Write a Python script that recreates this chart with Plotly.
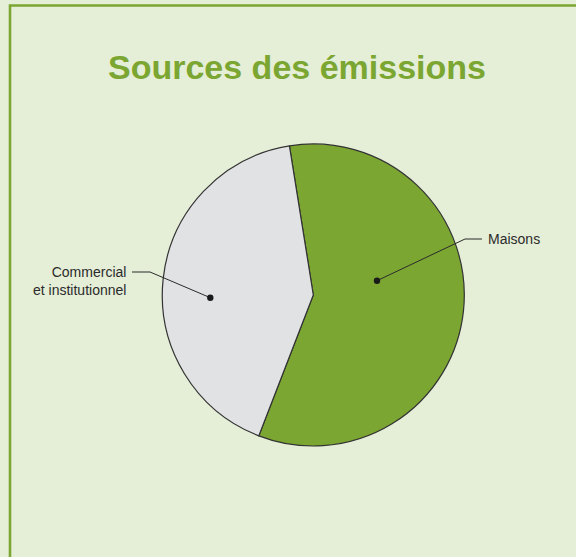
import plotly.graph_objects as go

# Emission sources (share, %)
labels = ["Maisons", "Commercial<br>et institutionnel"]
shares = [58.4, 41.6]
slice_colors = ["#7ba632", "#e1e2e4"]

W, H = 576, 557
BG = "#e5eed7"
GREEN = "#7ba632"
INK = "#2b2b2b"

# pie geometry in pixels (centre and radius)
cx, cy, r = 313.3, 295.0, 151.0


def px(x):
    return x / W


def py(y):
    return 1 - y / H


fig = go.Figure()
fig.add_trace(go.Pie(
    labels=labels,
    values=shares,
    sort=False,
    direction="clockwise",
    rotation=-9.1,
    marker=dict(colors=slice_colors, line=dict(color="#333333", width=1.2)),
    textinfo="none",
    hoverinfo="label+percent",
    showlegend=False,
    domain=dict(x=[px(cx - r), px(cx + r)], y=[py(cy + r), py(cy - r)]),
))

shapes = [
    # frame (top and left edges visible)
    dict(type="rect", xref="paper", yref="paper",
         x0=px(10), x1=px(W + 20), y0=py(H + 20), y1=py(5.5),
         line=dict(color=GREEN, width=2.6), fillcolor="rgba(0,0,0,0)", layer="above"),
    # leader lines
    dict(type="path", xref="paper", yref="paper",
         path=f"M {px(132)},{py(272)} L {px(150)},{py(272)} L {px(210.3)},{py(297.7)}",
         line=dict(color=INK, width=1)),
    dict(type="path", xref="paper", yref="paper",
         path=f"M {px(377)},{py(280.7)} L {px(465)},{py(239)} L {px(482)},{py(239)}",
         line=dict(color=INK, width=1)),
]
# anchor dots
for (dx, dy) in [(210.3, 297.7), (377.0, 280.7)]:
    rr = 3.2
    shapes.append(dict(type="circle", xref="paper", yref="paper",
                       x0=px(dx - rr), x1=px(dx + rr), y0=py(dy + rr), y1=py(dy - rr),
                       fillcolor="#1a1a1a", line=dict(width=0)))

annotations = [
    dict(text="<b>Sources des émissions</b>", xref="paper", yref="paper",
         x=px(297), y=py(67), xanchor="center", yanchor="middle", showarrow=False,
         font=dict(family="Liberation Sans, Arial, sans-serif", size=34, color=GREEN)),
    dict(text="Commercial<br>et institutionnel", xref="paper", yref="paper",
         x=px(128), y=py(281), xanchor="right", yanchor="middle", align="right",
         showarrow=False,
         font=dict(family="Liberation Sans, Arial, sans-serif", size=14, color=INK)),
    dict(text="Maisons", xref="paper", yref="paper",
         x=px(486), y=py(239), xanchor="left", yanchor="middle", showarrow=False,
         font=dict(family="Liberation Sans, Arial, sans-serif", size=14, color=INK)),
]

fig.update_layout(
    width=W, height=H,
    margin=dict(l=0, r=0, t=0, b=0),
    paper_bgcolor=BG, plot_bgcolor=BG,
    shapes=shapes, annotations=annotations,
)

fig.write_html("out.html")
